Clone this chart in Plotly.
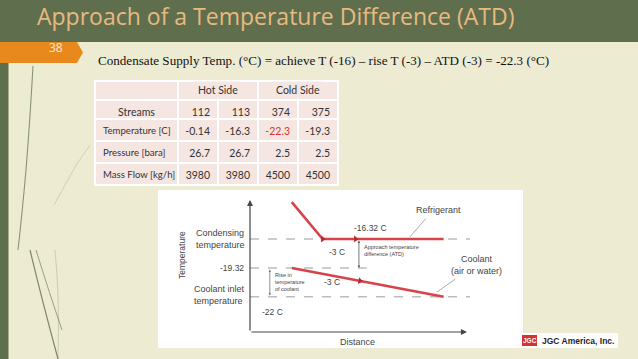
import plotly.graph_objects as go

W, H = 638, 359

# ---------------- data ----------------
title_text = "Approach of a Temperature Difference (ATD)"
slide_no = "38"
formula = "Condensate Supply Temp. (°C) = achieve T (-16) – rise T (-3) – ATD (-3) = -22.3 (°C)"

group_labels = ["Hot Side", "Cold Side"]
streams = ["112", "113", "374", "375"]
row_labels = ["Temperature [C]", "Pressure [bara]", "Mass Flow [kg/h]"]
temperature = ["-0.14", "-16.3", "-22.3", "-19.3"]
pressure = ["26.7", "26.7", "2.5", "2.5"]
mass_flow = ["3980", "3980", "4500", "4500"]

# diagram (schematic) values
t_condensing = -16.32
t_coolant_out = -19.32
t_coolant_in = -22.3
refrig_x = [19, 33, 88]
refrig_t = [-12.5, t_condensing, t_condensing]
coolant_x = [19, 88]
coolant_t = [t_coolant_out, t_coolant_in]
refrig_arrow_x = [33, 48]
coolant_arrow_x = [50]

# ---------------- helpers ----------------
def px(x):
    return x / W

def py(y):
    return 1 - y / H

fig = go.Figure()

GREEN = "#5F6F4E"
ORANGE = "#E8891E"
RED = "#D8434A"
GREY_T = "#444444"
PINK = "#F6E6E1"

shapes = []
ann = []

# title bar, tab, left strip
shapes.append(dict(type="rect", xref="paper", yref="paper", x0=0, x1=1, y0=py(42), y1=1,
                   fillcolor=GREEN, line_width=0, layer="below"))
shapes.append(dict(type="path", xref="paper", yref="paper",
                   path=f"M 0 {py(42)} L {px(77)} {py(42)} L {px(83)} {py(52.5)} L {px(77)} {py(63)} L 0 {py(63)} Z",
                   fillcolor=ORANGE, line_width=0, layer="below"))
shapes.append(dict(type="rect", xref="paper", yref="paper", x0=0, x1=px(8.5), y0=0, y1=py(63),
                   fillcolor=GREEN, line_width=0, layer="below"))

# decorative curves
curves = [
    ("M 33 66 Q 30 120 26 170 Q 22 215 18 250", 1.1, 0.7),
    ("M 30 250 Q 42 300 58 359", 1.2, 0.8),
    ("M 36 250 Q 50 295 62 330", 1.0, 0.6),
    ("M 90 145 Q 75 165 65 185 Q 58 198 54 205", 0.7, 0.3),
    ("M 55 250 Q 60 300 58 359", 0.8, 0.3),
]
for d, w, op in curves:
    toks = d.split()
    out = []
    i = 0
    while i < len(toks):
        t = toks[i]
        if t.isalpha():
            out.append(t)
            i += 1
        else:
            out.append(f"{px(float(toks[i])):.5f}")
            out.append(f"{py(float(toks[i+1])):.5f}")
            i += 2
    shapes.append(dict(type="path", xref="paper", yref="paper", path=" ".join(out),
                       line=dict(color=GREEN, width=w), opacity=op, layer="below"))

# diagram white box
shapes.append(dict(type="rect", xref="paper", yref="paper", x0=px(158), x1=px(523), y0=py(348), y1=py(190),
                   fillcolor="white", line_width=0, layer="below"))
# logo white box
shapes.append(dict(type="rect", xref="paper", yref="paper", x0=px(522), x1=px(618), y0=py(348), y1=py(333),
                   fillcolor="white", line_width=0, layer="below"))
shapes.append(dict(type="rect", xref="paper", yref="paper", x0=px(522), x1=px(537), y0=py(346), y1=py(335),
                   fillcolor="#D4332F", line_width=0, layer="below"))

# title and texts
ann.append(dict(text=title_text, x=px(36), y=py(16), xref="paper", yref="paper", xanchor="left", yanchor="middle",
                showarrow=False, borderpad=0, font=dict(family="Open Sans", size=23, color="#E9B97F")))
ann.append(dict(text=slide_no, x=px(56), y=py(48), xref="paper", yref="paper", xanchor="center", yanchor="middle",
                showarrow=False, font=dict(family="Open Sans", size=12, color="#FBE9D0")))
ann.append(dict(text=formula, x=px(96), y=py(61), xref="paper", yref="paper", xanchor="left", yanchor="middle",
                showarrow=False, font=dict(family="Liberation Serif", size=13.1, color="#111111")))

# ---------------- table ----------------
t_x0, t_x1 = 95, 338
colw = [83, 40, 40, 40, 40]
header_vals = [["", "Streams"]] + [["", s] for s in streams]
cell_vals = [[r.replace(" ", "\u00a0") for r in row_labels]] + \
            [[temperature[i], pressure[i], mass_flow[i]] for i in range(4)]
font_colors = [["#333333"] * 3] + [["#333333", "#333333", "#333333"] for _ in range(4)]
font_colors[3][0] = "#D9342B"
TFONT = "Lato"

fig.add_trace(go.Table(
    domain=dict(x=[px(t_x0), px(t_x1)], y=[py(190), py(81)]),
    columnwidth=colw,
    header=dict(values=header_vals, fill_color=PINK, line=dict(color="white", width=1.2),
                align=["center", "right", "right", "right", "right"], height=19,
                font=dict(family=TFONT, size=10.5, color="#333333")),
    cells=dict(values=cell_vals, fill_color=PINK, line=dict(color="white", width=1.2),
               align=["left", "right", "right", "right", "right"], height=22,
               font=dict(family=TFONT, size=[9.6, 10.5, 10.5, 10.5, 10.5], color=font_colors)),
))
# group labels centred over their column pairs
xs = [t_x0]
for w in colw:
    xs.append(xs[-1] + w * (t_x1 - t_x0) / sum(colw))
for gi, g in enumerate(group_labels):
    xc = xs[2 + 2 * gi]
    ann.append(dict(text=g, x=px(xc), y=py(90), xref="paper", yref="paper", xanchor="center", yanchor="middle",
                    showarrow=False, bgcolor=PINK, borderpad=2,
                    font=dict(family=TFONT, size=10.5, color="#333333")))

# ---------------- diagram ----------------
X_L, X_R = 250, 470
Y_B, Y_T = 332, 200
ppd = 9.67
t_bottom = t_condensing - (Y_B - 239) / ppd
t_top = t_condensing + (239 - Y_T) / ppd

DASH = dict(color="#9A9A9A", width=1, dash="dash")
fig.add_trace(go.Scatter(x=[0, 100], y=[t_condensing] * 2, mode="lines", line=DASH, hoverinfo="skip"))
fig.add_trace(go.Scatter(x=[0, 53], y=[t_coolant_out] * 2, mode="lines", line=DASH, hoverinfo="skip"))
fig.add_trace(go.Scatter(x=[0, 100], y=[t_coolant_in] * 2, mode="lines", line=DASH, hoverinfo="skip"))
fig.add_trace(go.Scatter(x=refrig_x, y=refrig_t, mode="lines", line=dict(color=RED, width=2.6), hoverinfo="skip"))
fig.add_trace(go.Scatter(x=coolant_x, y=coolant_t, mode="lines", line=dict(color=RED, width=2.6), hoverinfo="skip"))

def t_on_coolant(x):
    return coolant_t[0] + (coolant_t[1] - coolant_t[0]) * (x - coolant_x[0]) / (coolant_x[1] - coolant_x[0])

fig.add_trace(go.Scatter(x=refrig_arrow_x, y=[t_condensing] * len(refrig_arrow_x), mode="markers",
                         marker=dict(symbol="triangle-right", size=6, color="#B8282E"), hoverinfo="skip"))
fig.add_trace(go.Scatter(x=coolant_arrow_x, y=[t_on_coolant(v) for v in coolant_arrow_x], mode="markers",
                         marker=dict(symbol="triangle-right", size=6, color="#B8282E", angle=10), hoverinfo="skip"))

AX = dict(xref="x", yref="y", axref="x", ayref="y", showarrow=True, text="")
# axes with arrows
ann.append(dict(AX, x=0, y=t_top, ax=0, ay=t_bottom, arrowhead=2, arrowsize=1, arrowwidth=1.2, arrowcolor="#444444"))
ann.append(dict(AX, x=98.6, y=t_bottom, ax=0, ay=t_bottom, arrowhead=2, arrowsize=1, arrowwidth=1.2, arrowcolor="#444444"))
# ATD and rise arrows
ann.append(dict(AX, x=49.5, y=t_coolant_out, ax=49.5, ay=t_condensing, arrowhead=2, startarrowhead=2,
                arrowside="end+start", arrowsize=0.6, arrowwidth=0.8, arrowcolor="#555555"))
ann.append(dict(AX, x=9, y=t_coolant_in + 0.15, ax=9, ay=t_coolant_out, arrowhead=2, startarrowhead=2,
                arrowside="end+start", arrowsize=0.6, arrowwidth=0.8, arrowcolor="#777777"))
# leader lines
ann.append(dict(AX, x=72.7, y=-16.1, ax=80.5, ay=-14.05, arrowhead=0, arrowwidth=0.7, arrowcolor="#888888"))
ann.append(dict(AX, x=85, y=-21.8, ax=94, ay=-20.35, arrowhead=0, arrowwidth=0.7, arrowcolor="#888888"))

def label(text, x, y, size=9, xanchor="center", align="center", color=GREY_T, angle=0):
    ann.append(dict(text=text, x=px(x), y=py(y), xref="paper", yref="paper", xanchor=xanchor, yanchor="middle",
                    align=align, showarrow=False, textangle=angle,
                    font=dict(family="Liberation Sans", size=size, color=color)))

label("Temperature", 182, 255, size=8.5, angle=-90)
label("Distance", 357, 342, size=9)
label("Condensing<br>temperature", 194, 239, size=9, xanchor="left", align="left")
label("-19.32", 246, 268, size=8.5, xanchor="right")
label("Coolant inlet<br>temperature", 192, 295, size=9, xanchor="left", align="left")
label("-22 C", 260, 312, size=8.5, xanchor="left")
label("-16.32 C", 370, 228, size=8.5)
label("-3 C", 337, 252, size=8.5)
label("Approach temperature<br>difference (ATD)", 362, 250, size=5.5, xanchor="left", align="left")
label("Refrigerant", 438, 210, size=9)
label("Coolant<br>(air or water)", 476, 265, size=9)
label("Rise in<br>temperature<br>of coolant", 273, 282, size=5.5, xanchor="left", align="left")
label("-3 C", 332, 282, size=8.5)

# logo
ann.append(dict(text="<b>JGC</b>", x=px(529.5), y=py(340.5), xref="paper", yref="paper", xanchor="center",
                yanchor="middle", showarrow=False, font=dict(family="Liberation Sans", size=6.5, color="white")))
ann.append(dict(text="<b>JGC America, Inc.</b>", x=px(540), y=py(340.5), xref="paper", yref="paper", xanchor="left",
                yanchor="middle", showarrow=False, font=dict(family="Liberation Sans", size=8.5, color="#1E1E30")))

fig.update_layout(
    width=W, height=H, margin=dict(l=0, r=0, t=0, b=0),
    paper_bgcolor="#EEEBD3", plot_bgcolor="rgba(0,0,0,0)",
    showlegend=False, shapes=shapes, annotations=ann,
    xaxis=dict(domain=[px(X_L), px(X_R)], range=[0, 100], visible=False, fixedrange=True),
    yaxis=dict(domain=[py(Y_B), py(Y_T)], range=[t_bottom, t_top], visible=False, fixedrange=True),
)

fig.write_html("out.html", config={"displayModeBar": False},
               post_script="document.body.style.margin='0';document.body.style.overflow='hidden';")
